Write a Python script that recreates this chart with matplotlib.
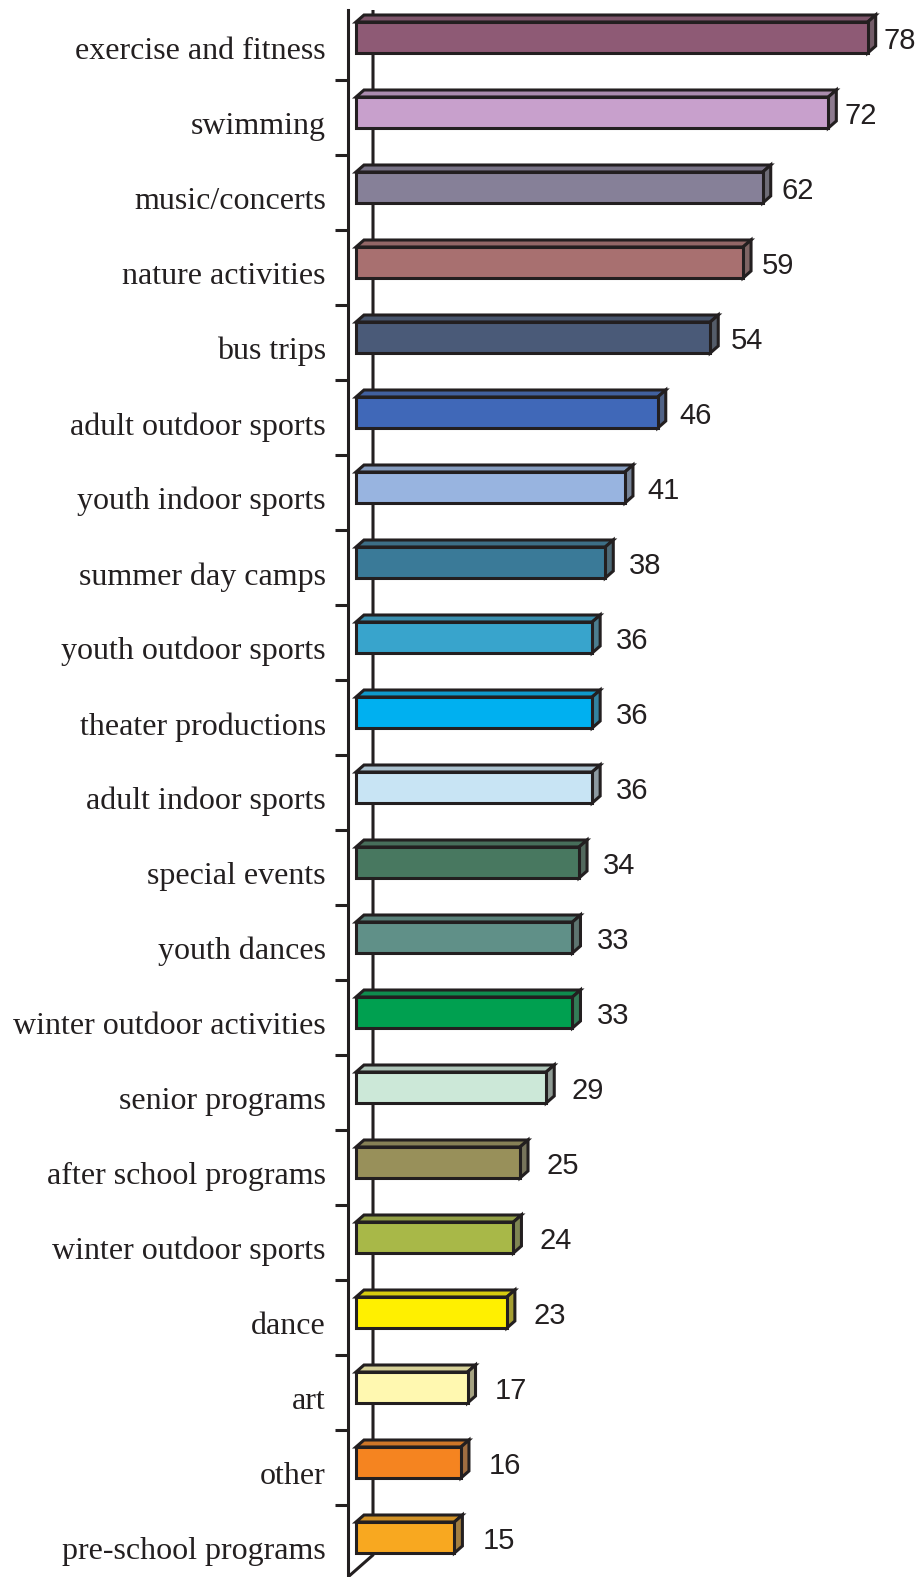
import matplotlib
matplotlib.use("Agg")
import matplotlib.pyplot as plt
from matplotlib.patches import Polygon, Rectangle
from matplotlib.transforms import blended_transform_factory
import numpy as np

# データ
categories = ["exercise and fitness", "swimming", "music/concerts", "nature activities",
              "bus trips", "adult outdoor sports", "youth indoor sports", "summer day camps",
              "youth outdoor sports", "theater productions", "adult indoor sports",
              "special events", "youth dances", "winter outdoor activities",
              "senior programs", "after school programs", "winter outdoor sports",
              "dance", "art", "other", "pre-school programs"]
values = [78, 72, 62, 59, 54, 46, 41, 38, 36, 36, 36, 34, 33, 33, 29, 25, 24, 23, 17, 16, 15]
colors = ["#8E5A75", "#C8A0CC", "#868098", "#A87070", "#4A5A78", "#4068B8", "#98B4E0",
          "#3A7A98", "#38A4CC", "#00B0F0", "#C8E4F4", "#487860", "#609088", "#00A050",
          "#CCE8D8", "#98905A", "#A8B848", "#FFF000", "#FFF8B0", "#F58420", "#F8A820"]

ink = "#231F20"
W, H = 918, 1577

fig = plt.figure(figsize=(W / 100, H / 100), dpi=100)
ax = fig.add_axes([348 / W, 0, 570 / W, (H - 10) / H])

# スケール（ピクセル/単位）
sx = 6.56
sy = 75.0
ax.set_xlim(-8 / sx, -8 / sx + 570 / sx)
ax.set_ylim((H - 37.5) / sy, -(37.5 - 10) / sy)

# 奥行き（ピクセル → データ単位）
ddx = 8 / sx
ddy = 7 / sy
bh = 31 / sy
lw = 2.2


def shade(c, k, add):
    rgb = np.array(matplotlib.colors.to_rgb(c))
    return tuple(np.clip(rgb * k + add, 0, 1))


# 奥の壁の線
wall_x = 17 / sx
ax.plot([wall_x, wall_x, -8 / sx], [-1, (1555 - 37.5) / sy, (H - 37.5) / sy],
        color=ink, lw=lw, zorder=1, solid_capstyle="butt")

for i, (v, c) in enumerate(zip(values, colors)):
    top = i - bh / 2
    bot = i + bh / 2
    # 上面
    ax.add_patch(Polygon([(0, top), (v, top), (v + ddx, top - ddy), (ddx, top - ddy)],
                         closed=True, facecolor=shade(c, 0.78, 0.06), edgecolor=ink,
                         lw=lw, joinstyle="miter", zorder=2))
    # 側面
    ax.add_patch(Polygon([(v, top), (v + ddx, top - ddy), (v + ddx, bot - ddy), (v, bot)],
                         closed=True, facecolor=shade(c, 0.45, 0.2), edgecolor=ink,
                         lw=lw, joinstyle="miter", zorder=2))
    # 正面
    ax.add_patch(Rectangle((0, top), v, bh, facecolor=c, edgecolor=ink, lw=lw,
                           joinstyle="miter", zorder=3))
    # 値ラベル（短い棒ほど少し離れている）
    gap_px = 31 - 0.2 * v
    ax.annotate(str(v), (v, i + 0.05), xytext=(gap_px * 0.72, 0), textcoords="offset points",
                ha="left", va="center", fontsize=21, color=ink,
                family="Liberation Sans")

# カテゴリ名
trans = blended_transform_factory(ax.transAxes, ax.transData)
for i, name in enumerate(categories):
    ax.text(-0.0386, i + 0.19, name, transform=trans, ha="right", va="center",
            fontsize=23, color=ink, family="Liberation Serif")

# 軸
for s in ["top", "right", "bottom"]:
    ax.spines[s].set_visible(False)
ax.spines["left"].set_linewidth(lw)
ax.spines["left"].set_color(ink)
ax.set_yticks([i + 0.57 for i in range(len(values) - 1)])
ax.set_yticklabels([])
ax.tick_params(axis="y", direction="out", length=9.4, width=lw, color=ink)
ax.set_xticks([])

fig.savefig("out.png", dpi=100)
